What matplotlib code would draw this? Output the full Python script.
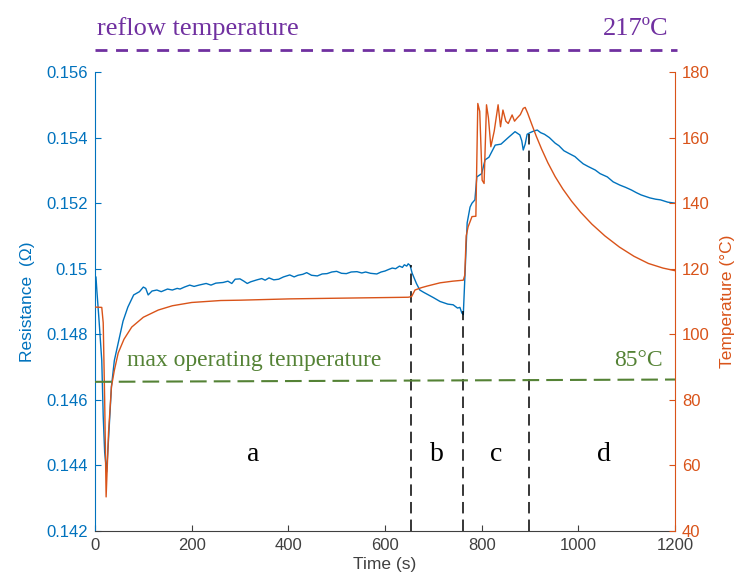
import numpy as np
import matplotlib.pyplot as plt
from matplotlib.lines import Line2D

# Resistance trace (time in s, resistance in ohm)
res_time = [0, 2, 4, 8, 14, 17, 20, 24, 28, 34, 40, 48, 58, 68, 80, 92, 100, 105,
            110, 118, 128, 137, 150, 160, 170, 176, 185, 196, 205, 215, 230, 240, 250,
            265, 275, 283, 290, 300, 308, 315, 322, 335, 345, 352, 360, 370, 380, 390,
            403, 412, 420, 430, 438, 448, 460, 470, 480, 490, 500, 510, 520, 530, 542,
            552, 560, 570, 583, 592, 600, 608, 615, 622, 630, 636, 640, 645, 648, 652,
            656, 665, 672, 680, 690, 700, 714, 722, 730, 741, 750, 755, 759, 762, 766,
            770, 776, 780, 786, 790, 800, 807, 815, 828, 840, 855, 869, 879, 883, 886,
            890, 894, 900, 908, 915, 922, 930, 940, 952, 960, 970, 980, 993, 1002, 1010,
            1020, 1035, 1045, 1060, 1072, 1086, 1098, 1110, 1120, 1130, 1140, 1148, 1160,
            1170, 1185, 1200]
res_ohm = [0.14975, 0.14975, 0.1493, 0.1485, 0.1472, 0.1455, 0.1444, 0.1438, 0.1448,
           0.1464, 0.1472, 0.14774, 0.1484, 0.14883, 0.1492, 0.1493, 0.14944, 0.1494,
           0.1492, 0.14932, 0.14935, 0.1493, 0.14938, 0.14935, 0.1494, 0.14938, 0.14944,
           0.1495, 0.14946, 0.1495, 0.14955, 0.1495, 0.14956, 0.14958, 0.14962, 0.14955,
           0.14968, 0.14969, 0.14962, 0.14955, 0.1496, 0.14966, 0.1497, 0.14965, 0.14972,
           0.14966, 0.14968, 0.14975, 0.14981, 0.14975, 0.1498, 0.14983, 0.14988, 0.1498,
           0.14978, 0.14984, 0.14985, 0.1499, 0.14992, 0.14986, 0.14985, 0.1499, 0.14991,
           0.14987, 0.1499, 0.14986, 0.14984, 0.1499, 0.14993, 0.14998, 0.15002, 0.15,
           0.15008, 0.15004, 0.15012, 0.15008, 0.15015, 0.1501, 0.14987, 0.14955,
           0.14935, 0.14928, 0.1492, 0.14912, 0.149, 0.14896, 0.14892, 0.1489, 0.1488,
           0.14882, 0.14865, 0.1486, 0.15, 0.1514, 0.15188, 0.152, 0.1521, 0.1528, 0.1529,
           0.15332, 0.1534, 0.15377, 0.1538, 0.154, 0.15418, 0.15408, 0.1539, 0.15362,
           0.1538, 0.1541, 0.15415, 0.1542, 0.15423, 0.15415, 0.1541, 0.154, 0.15383,
           0.15375, 0.1536, 0.15352, 0.15342, 0.1533, 0.1532, 0.15312, 0.15301, 0.1529,
           0.1528, 0.15265, 0.15255, 0.15248, 0.1524, 0.15232, 0.15225, 0.1522, 0.15216,
           0.15212, 0.1521, 0.15203, 0.152]

# Temperature trace (time in s, temperature in C)
temp_time = [0, 14, 17, 20, 23, 26, 28, 34, 40, 48, 60, 76, 100, 131, 160, 200, 260, 300,
             403, 500, 600, 648, 655, 662, 675, 687, 714, 740, 762, 765, 768, 772, 780,
             788, 792, 796, 801, 805, 810, 814, 819, 826, 834, 839, 844, 850, 855, 863,
             868, 873, 880, 886, 890, 895, 903, 913, 924, 937, 952, 968, 986, 1005,
             1028, 1055, 1085, 1115, 1145, 1175, 1200]
temp_c = [108.3, 108.2, 103.5, 80, 50.4, 62, 70, 84, 89, 94.3, 98.5, 102.2, 105.2, 107.4,
          108.7, 109.7, 110.3, 110.4, 110.8, 111.0, 111.2, 111.3, 111.5, 113.5, 114.2,
          114.7, 115.7, 116.2, 116.5, 118, 130, 132.8, 135.9, 136, 170.4, 168, 147, 146,
          170, 166, 157.2, 162, 170, 163.3, 168.4, 165, 164.3, 166.9, 165, 165.9, 167,
          168.9, 169.2, 167.5, 164.3, 160.4, 156.5, 152.3, 148.1, 144.3, 140.6, 137.2,
          133.6, 130.0, 126.6, 123.8, 121.6, 120.2, 119.4]

# Stage boundaries (time, top of the dashed line on the resistance axis)
split_time = [653, 762, 898]
split_top = [0.1501, 0.1487, 0.1541]
stage_names = ['a', 'b', 'c', 'd']
stage_time = [327, 708, 830, 1053]
stage_temp = 63.2

# max operating temperature line (temperature axis)
limit_time = [0, 1200]
limit_temp = [85.5, 86.2]

blue = '#0072BD'
orange = '#D95319'
green = '#548235'
purple = '#7030A0'
sans = 'Liberation Sans'
serif = 'Liberation Serif'

fig = plt.figure(figsize=(7.45, 5.86), dpi=100)
ax = fig.add_axes([95/745, 1-531/586, 580/745, 459/586])
ax2 = ax.twinx()

ax.plot(res_time, res_ohm, color=blue, lw=1.0)
ax2.plot(temp_time, temp_c, color=orange, lw=1.0)

# dashed stage boundaries
for t, top in zip(split_time, split_top):
	ax.plot([t, t], [0.142, top], color='black', lw=1.1, linestyle=(0, (7.5, 4)))

ax2.plot(limit_time, limit_temp, color=green, lw=1.5, linestyle=(0, (8, 3.4)))
ax2.text(66, 90.3, 'max operating temperature', color=green, fontsize=17, family=serif)
ax2.text(1175, 90.3, '85°C', color=green, fontsize=17, family=serif, ha='right')

for name, t in zip(stage_names, stage_time):
	ax2.text(t, stage_temp, name, fontsize=20, family=serif, ha='center', va='center')

# axes limits / ticks
ax.set_xlim(0, 1200)
ax.set_ylim(0.142, 0.156)
ax2.set_ylim(40, 180)
ax.set_xticks(np.arange(0, 1201, 200))
ax.set_yticks(np.arange(0.142, 0.1561, 0.002))
ax.set_yticklabels(['0.142', '0.144', '0.146', '0.148', '0.15', '0.152', '0.154', '0.156'])
ax2.set_yticks(np.arange(40, 181, 20))

ax.tick_params(axis='x', direction='in', length=4, colors='#404040', labelsize=12, pad=5)
ax.tick_params(axis='y', direction='in', length=4, colors=blue, labelsize=12, pad=5)
ax2.tick_params(axis='y', direction='in', length=4, colors=orange, labelsize=12, pad=5)
for a in (ax, ax2):
	for lab in a.get_xticklabels() + a.get_yticklabels():
		lab.set_family(sans)
	a.spines['top'].set_visible(False)
ax.spines['left'].set_color(blue)
ax.spines['right'].set_visible(False)
ax.spines['bottom'].set_color('#404040')
ax2.spines['right'].set_color(orange)
ax2.spines['left'].set_visible(False)
ax2.spines['bottom'].set_visible(False)

ax.set_xlabel('Time (s)', fontsize=12.5, color='#404040', family=sans, labelpad=3)
ax.set_ylabel('Resistance  (Ω)', fontsize=12.5, color=blue, family=sans, labelpad=8)
ax2.set_ylabel('Temperature (°C)', fontsize=12.5, color=orange, family=sans, labelpad=7)

# reflow temperature line above the plot
fig.add_artist(Line2D([95/745, 677/745], [1-50/586, 1-50/586], transform=fig.transFigure,
	color=purple, lw=2, linestyle=(0, (4.3, 3.1))))
fig.text(97/745, 1-35/586, 'reflow temperature', color=purple, fontsize=19, family=serif)
fig.text(668/745, 1-35/586, '217ºC', color=purple, fontsize=19, family=serif, ha='right')

plt.savefig('out.png', dpi=100)
